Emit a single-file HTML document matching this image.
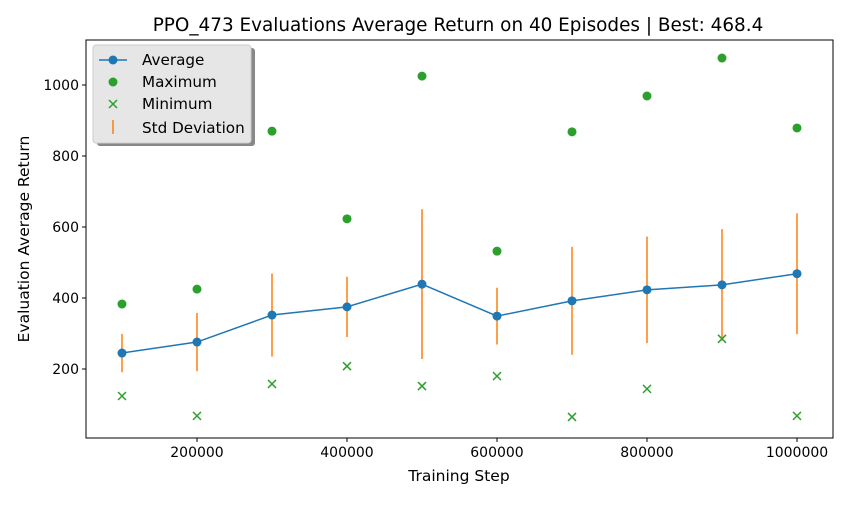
<!DOCTYPE html>
<html><head><meta charset="utf-8"><style>
body{margin:0;background:#fff;}
svg{font-family:"DejaVu Sans","Liberation Sans",sans-serif;}
</style></head><body>
<svg id="chart" width="850" height="500">
<rect x="0" y="0" width="850" height="500" fill="#fff"/>
<g id="plot"></g>
<text x="458" y="31" font-size="18.4" text-anchor="middle">PPO_473 Evaluations Average Return on 40 Episodes | Best: 468.4</text>
<text x="459" y="481" font-size="15.5" text-anchor="middle">Training Step</text>
<text transform="translate(29,239) rotate(-90)" font-size="15.5" text-anchor="middle">Evaluation Average Return</text>
<g>
<rect x="97" y="48" width="158" height="98" rx="3" fill="#888"/>
<rect x="93" y="45" width="158" height="98" rx="3" fill="#e6e6e6" stroke="#ccc"/>
<line x1="99" y1="60" x2="127" y2="60" stroke="#1f77b4" stroke-width="1.5"/><circle cx="113" cy="60" r="4.5" fill="#1f77b4"/>
<text x="142" y="65" font-size="15.2">Average</text>
<circle cx="113" cy="82" r="4.5" fill="#2ca02c"/>
<text x="142" y="87" font-size="15.2">Maximum</text>
<path d="M109 100l8 8M117 100l-8 8" stroke="#2ca02c" stroke-width="1.5"/>
<text x="142" y="109" font-size="15.2">Minimum</text>
<line x1="113" y1="120" x2="113" y2="134" stroke="#ff7f0e" stroke-width="1.5"/>
<text x="142" y="133" font-size="15.2">Std Deviation</text>
</g>
</svg>
<script>
const steps=[100000,200000,300000,400000,500000,600000,700000,800000,900000,1000000];
const avgVals=[245,276,352,375,439,349,392,423,437,468.4];
const maxVals=[383,425,870,623,1025,532,868,969,1076,879];
const minVals=[124,68,158,208,152,180,65,144,285,68];
const stdVals=[54,82,117,85,211,80,152,150,157,170];
const xTicks=[200000,400000,600000,800000,1000000];
const yTicks=[200,400,600,800,1000];
const L=86,R=833,T=40,B=438;
const x=v=>47+v*0.00075;
const y=v=>440-v*0.355;
const NS="http://www.w3.org/2000/svg";
const g=document.getElementById('plot');
function mk(t,a){const e=document.createElementNS(NS,t);for(const k in a)e.setAttribute(k,a[k]);g.appendChild(e);return e;}
const frame=mk('rect',{x:L,y:T,width:R-L,height:B-T,fill:'none',stroke:'#000','stroke-width':1});


xTicks.forEach(t=>{
 mk('line',{x1:x(t),x2:x(t),y1:B,y2:B+4,stroke:'#000'});
 const tx=mk('text',{x:x(t),y:B+19,'font-size':14,'text-anchor':'middle'});tx.textContent=t;
 
 
});
yTicks.forEach(t=>{
 mk('line',{x1:L-4,x2:L,y1:y(t),y2:y(t),stroke:'#000'});
 const tx=mk('text',{x:L-7,y:y(t)+5,'font-size':14,'text-anchor':'end'});tx.textContent=t;
 
 
});
steps.forEach((s,i)=>{
 const l=mk('line',{x1:x(s),x2:x(s),y1:y(avgVals[i]-stdVals[i]),y2:y(avgVals[i]+stdVals[i]),stroke:'#ff7f0e','stroke-width':1.5});
 
 
});
const p=mk('polyline',{points:steps.map((s,i)=>x(s)+','+y(avgVals[i])).join(' '),fill:'none',stroke:'#1f77b4','stroke-width':1.5});


steps.forEach((s,i)=>{
 const c=mk('circle',{cx:x(s),cy:y(avgVals[i]),r:4.5,fill:'#1f77b4'});
 
 
 const m=mk('circle',{cx:x(s),cy:y(maxVals[i]),r:4.5,fill:'#2ca02c'});
 
 
 const X=x(s),Y=y(minVals[i]);
 const n=mk('path',{d:`M${X-4} ${Y-4}l8 8M${X+4} ${Y-4}l-8 8`,stroke:'#2ca02c','stroke-width':1.5});
 
 
});
</script>
</body></html>
